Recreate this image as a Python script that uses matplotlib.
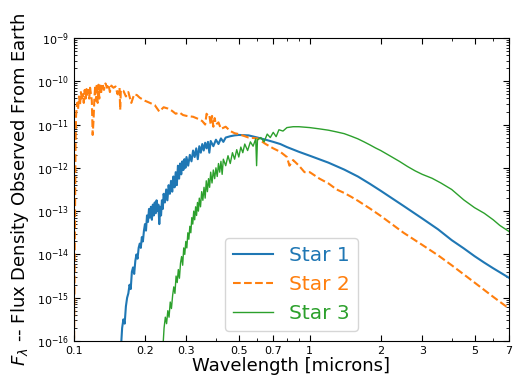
import numpy as np
import matplotlib
matplotlib.use('Agg')
import matplotlib.pyplot as plt
from matplotlib.ticker import FixedLocator, NullFormatter, LogLocator

# Star 1 (blue) -- wavelength [microns], log10 flux
star1_wave = [0.158, 0.160, 0.162, 0.164, 0.166, 0.168, 0.170, 0.172, 0.174, 0.176,
              0.178, 0.180, 0.182, 0.184, 0.186, 0.188, 0.190, 0.192, 0.194, 0.196,
              0.198, 0.200, 0.202, 0.204, 0.206, 0.208, 0.210, 0.212, 0.214, 0.216,
              0.218, 0.220, 0.222, 0.224, 0.226, 0.228, 0.230, 0.232, 0.234, 0.236,
              0.238, 0.240, 0.243, 0.246, 0.249, 0.252, 0.255, 0.258, 0.261, 0.264,
              0.267, 0.270, 0.273, 0.276, 0.279, 0.282, 0.285, 0.288, 0.291, 0.294,
              0.297, 0.300, 0.305, 0.310, 0.315, 0.320, 0.325, 0.330, 0.335, 0.340,
              0.345, 0.350, 0.355, 0.360, 0.365, 0.370, 0.375, 0.380, 0.390, 0.400,
              0.410, 0.420, 0.430, 0.440, 0.460, 0.480, 0.500, 0.550, 0.600, 0.650,
              0.700, 0.750, 0.800, 0.900, 1.0, 1.2, 1.4, 1.6, 1.8, 2.0,
              2.5, 3.0, 3.5, 4.0, 4.5, 5.0, 5.5, 6.0, 7.0]
star1_logf = [-16.2, -15.7, -15.5, -15.6, -15.2, -15.0, -14.9, -14.7, -14.8, -14.4,
              -14.3, -14.45, -14.15, -14.0, -14.1, -13.85, -13.75, -13.85, -13.6, -13.7,
              -13.45, -13.3, -13.45, -13.1, -13.25, -12.95, -13.15, -12.9, -13.2, -12.85,
              -13.1, -12.8, -13.05, -12.75, -13.0, -12.85, -13.3, -12.9, -13.1, -12.75,
              -12.95, -12.6, -12.8, -12.5, -12.75, -12.4, -12.6, -12.3, -12.55, -12.2,
              -12.45, -12.1, -12.4, -11.95, -12.25, -11.9, -12.15, -11.85, -12.05, -11.8,
              -12.0, -11.75, -11.95, -11.7, -11.85, -11.6, -11.75, -11.55, -11.8, -11.5,
              -11.65, -11.45, -11.6, -11.42, -11.55, -11.4, -11.65, -11.38, -11.5, -11.35,
              -11.45, -11.32, -11.4, -11.3, -11.27, -11.25, -11.24, -11.25, -11.3, -11.35,
              -11.4, -11.45, -11.52, -11.63, -11.72, -11.88, -12.04, -12.2, -12.37, -12.53,
              -12.88, -13.17, -13.42, -13.67, -13.86, -14.04, -14.19, -14.32, -14.54]

# Star 2 (orange, dashed)
star2_wave = [0.1000, 0.1010, 0.1015, 0.1020, 0.1030, 0.104, 0.105, 0.106, 0.107, 0.108,
              0.109, 0.110, 0.111, 0.112, 0.113, 0.114, 0.115, 0.116, 0.117, 0.118,
              0.119, 0.120, 0.121, 0.122, 0.123, 0.124, 0.125, 0.126, 0.127, 0.128,
              0.129, 0.130, 0.132, 0.134, 0.136, 0.138, 0.140, 0.142, 0.144, 0.147,
              0.150, 0.153, 0.156, 0.157, 0.158, 0.162, 0.166, 0.170, 0.175, 0.180,
              0.185, 0.190, 0.200, 0.210, 0.220, 0.230, 0.240, 0.250, 0.260, 0.270,
              0.280, 0.290, 0.300, 0.320, 0.340, 0.350, 0.360, 0.365, 0.370, 0.375,
              0.380, 0.385, 0.390, 0.395, 0.400, 0.410, 0.420, 0.440, 0.460, 0.480,
              0.500, 0.550, 0.600, 0.650, 0.700, 0.750, 0.800, 0.820, 0.850, 0.900,
              0.950, 1.0, 1.1, 1.2, 1.3, 1.4, 1.5, 1.6, 1.8, 2.0,
              2.5, 3.0, 3.5, 4.0, 5.0, 6.0, 7.0]
star2_logf = [-16.2, -13.0, -11.5, -10.8, -10.5, -10.65, -10.35, -10.55, -10.25, -10.45,
              -10.3, -10.5, -10.2, -10.4, -10.18, -10.35, -10.2, -10.4, -10.15, -10.3,
              -10.45, -11.24, -10.9, -10.4, -10.1, -10.45, -10.05, -10.5, -10.08, -10.4,
              -10.05, -10.3, -10.05, -10.2, -10.05, -10.15, -10.07, -10.25, -10.1, -10.15,
              -10.12, -10.3, -10.15, -10.66, -10.2, -10.22, -10.35, -10.25, -10.5, -10.3,
              -10.32, -10.38, -10.45, -10.5, -10.55, -10.7, -10.6, -10.63, -10.68, -10.75,
              -10.72, -10.78, -10.8, -10.82, -10.88, -10.92, -11.0, -10.75, -10.8, -10.78,
              -11.0, -10.8, -11.05, -10.85, -11.0, -10.95, -11.1, -11.05, -11.15, -11.2,
              -11.22, -11.3, -11.32, -11.45, -11.55, -11.63, -11.75, -11.95, -11.82, -11.95,
              -12.1, -12.1, -12.25, -12.36, -12.5, -12.58, -12.67, -12.76, -12.94, -13.11,
              -13.5, -13.78, -14.02, -14.25, -14.65, -14.98, -15.25]

# Star 3 (green)
star3_wave = [0.238, 0.241, 0.244, 0.247, 0.250, 0.253, 0.256, 0.259, 0.262, 0.265,
              0.268, 0.271, 0.274, 0.277, 0.280, 0.283, 0.286, 0.289, 0.292, 0.295,
              0.298, 0.301, 0.304, 0.307, 0.310, 0.313, 0.316, 0.319, 0.322, 0.325,
              0.328, 0.331, 0.334, 0.337, 0.340, 0.344, 0.348, 0.352, 0.356, 0.360,
              0.364, 0.368, 0.372, 0.376, 0.380, 0.385, 0.390, 0.395, 0.400, 0.405,
              0.410, 0.415, 0.420, 0.425, 0.430, 0.440, 0.450, 0.460, 0.470, 0.480,
              0.490, 0.500, 0.510, 0.520, 0.530, 0.545, 0.560, 0.575, 0.590, 0.595,
              0.600, 0.620, 0.640, 0.660, 0.680, 0.700, 0.720, 0.740, 0.770, 0.800,
              0.850, 0.900, 1.0, 1.1, 1.2, 1.3, 1.4, 1.5, 1.6, 1.7,
              1.8, 1.9, 2.0, 2.2, 2.4, 2.6, 2.8, 3.0, 3.3, 3.6,
              4.0, 4.5, 5.0, 5.5, 6.0, 6.4, 7.0]
star3_logf = [-16.2, -15.7, -15.45, -15.6, -15.3, -15.45, -15.1, -15.25, -14.95, -14.75,
              -14.9, -14.5, -14.65, -14.35, -14.55, -14.2, -14.05, -14.25, -13.85, -14.0,
              -13.7, -13.85, -13.5, -13.65, -13.35, -13.5, -13.15, -13.3, -13.0, -13.2,
              -12.9, -13.1, -12.8, -13.0, -12.7, -12.9, -12.55, -12.75, -12.45, -12.7,
              -12.3, -12.55, -12.25, -12.45, -12.1, -12.35, -12.05, -12.25, -12.0, -12.2,
              -11.9, -12.1, -11.85, -12.15, -11.8, -11.95, -11.72, -11.9, -11.65, -11.8,
              -11.58, -11.75, -11.52, -11.65, -11.45, -11.6, -11.4, -11.5, -11.33, -11.95,
              -11.35, -11.3, -11.4, -11.22, -11.3, -11.18, -11.28, -11.12, -11.15, -11.07,
              -11.05, -11.05, -11.07, -11.1, -11.13, -11.17, -11.21, -11.27, -11.33, -11.4,
              -11.47, -11.54, -11.6, -11.73, -11.85, -11.97, -12.07, -12.15, -12.24, -12.35,
              -12.5, -12.74, -12.92, -13.05, -13.2, -13.33, -13.47]

xticks = [0.1, 0.2, 0.3, 0.5, 0.7, 1, 2, 3, 5, 7]
xtick_labels = ['0.1', '0.2', '0.3', '0.5', '0.7', '1', '2', '3', '5', '7']
xminor = [0.4, 0.6, 0.8, 0.9, 4, 6]

fig = plt.figure(figsize=(5.19, 3.75), dpi=100)
ax = fig.add_axes([0.1426, 0.0907, 0.8381, 0.808])

ax.plot(star1_wave, 10 ** np.array(star1_logf), color='#1f77b4', lw=1.5, label='Star 1')
ax.plot(star2_wave, 10 ** np.array(star2_logf), color='#ff7f0e', lw=1.5, ls='--', label='Star 2')
ax.plot(star3_wave, 10 ** np.array(star3_logf), color='#2ca02c', lw=1.0, label='Star 3')

ax.set_xscale('log')
ax.set_yscale('log')
ax.set_xlim(0.1, 7)
ax.set_ylim(1e-16, 1e-9)

ax.xaxis.set_major_locator(FixedLocator(xticks))
ax.set_xticklabels(xtick_labels)
ax.xaxis.set_minor_locator(FixedLocator(xminor))
ax.xaxis.set_minor_formatter(NullFormatter())
ax.yaxis.set_major_locator(LogLocator(base=10, numticks=20))
ax.yaxis.set_minor_locator(LogLocator(base=10, subs=np.arange(2, 10), numticks=20))
ax.yaxis.set_minor_formatter(NullFormatter())

ax.tick_params(which='both', direction='in', top=True, right=True, labelsize=8)
ax.tick_params(which='major', length=4)
ax.tick_params(which='minor', length=2)

ax.set_xlabel('Wavelength [microns]', fontsize=13, labelpad=1)
ax.set_ylabel(r'$F_\lambda$ -- Flux Density Observed From Earth', fontsize=13)

leg = ax.legend(loc='lower center', fontsize=14.5, handlelength=2.0)
for text, line in zip(leg.get_texts(), leg.get_lines()):
    text.set_color(line.get_color())

plt.savefig('out.png', dpi=100)
